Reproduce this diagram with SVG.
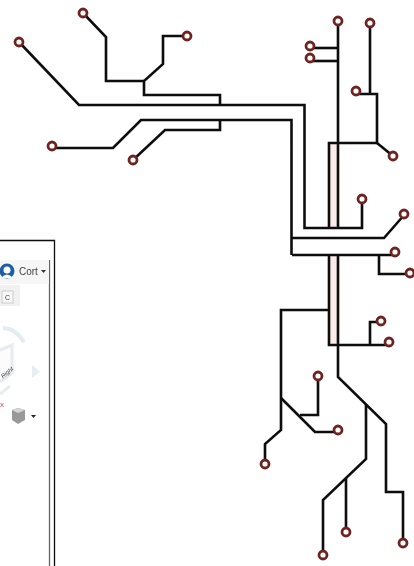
<svg xmlns="http://www.w3.org/2000/svg" width="414" height="566" viewBox="0 0 414 566">
<style>
.w{fill:none;stroke:#111;stroke-width:2.6;stroke-linejoin:miter}
.n{fill:#fff;stroke:#6e2320;stroke-width:2.8}
.u{font-family:"Liberation Sans",Arial,sans-serif;fill:#444}
</style>
<defs><filter id="soft" x="-5%" y="-5%" width="110%" height="110%"><feGaussianBlur stdDeviation="0.45"/></filter></defs>
<rect width="414" height="566" fill="#fff"/>
<g id="screenshot" filter="url(#soft)">
<path d="M0 240.500H54.500V566" fill="none" stroke="#111" stroke-width="1.300"/>
<path d="M49.500 260V566" fill="none" stroke="#666" stroke-width="1.300"/>
<rect x="0" y="260" width="49" height="24" fill="#f6f6f6"/>
<rect x="0" y="285" width="20" height="21" fill="#f1f1f1"/>
<rect x="2" y="291" width="11" height="12" fill="#f8f8f8" stroke="#ccc"/>
<text class="u" x="5" y="300" font-size="7">C</text>
<circle cx="7" cy="271" r="7.500" fill="#1f5fa8"/>
<circle cx="7" cy="270" r="3.500" fill="#fff"/>
<path d="M1 278q6-7 12 0z" fill="#fff"/>
<text class="u" x="19" y="274.500" font-size="10">Cort</text>
<path d="M41 270h5l-2.500 3z" fill="#333"/>
<path d="M3 328q12 0 21 14" fill="none" stroke="#e3ecf0" stroke-width="4"/>
<path d="M0 350l12-5v28l-12 9" fill="#fbfcfc" stroke="#e6ecef" stroke-width="3"/>
<text class="u" x="1" y="377" font-size="6" font-style="italic" transform="rotate(-40 4 375)" fill="#555">Right</text>
<path d="M32 365v13l8-6.500z" fill="#e6eff3"/>
<path d="M0 394l10-8" fill="none" stroke="#e8edf0" stroke-width="3"/>
<text x="0" y="407" font-family="Liberation Sans,sans-serif" font-size="8" fill="#d84848">x</text>
<path d="M12 410l6-2 7 2v10l-7 4-6-4z" fill="#999"/>
<path d="M12 410l6-2 7 2-7 3z" fill="#d4d4d4"/>
<path d="M31 415h5l-2.500 3z" fill="#222"/>
</g>
<g id="bands">
<rect x="329" y="143" width="9" height="85" fill="#f9ecea"/>
<rect x="329" y="255" width="9" height="90" fill="#f9ecea"/>
</g>
<g id="connectors" filter="url(#soft)">
<path class="w" d="M83 13L106 37V81H144"/>
<path class="w" d="M186 36H163V64L144 81V95H220V105"/>
<path class="w" d="M19 42L79 105H304.500V228H362V199"/>
<path class="w" d="M52 148H113L141 120H291.500V255"/>
<path class="w" d="M133 160L165 130H220V120"/>
<path class="w" d="M405 214L384 238H292"/>
<path class="w" d="M292 255H395"/>
<path class="w" d="M379 255V274H410"/>
<path class="w" d="M338 21V228"/>
<path class="w" d="M310 48H338"/>
<path class="w" d="M310 61H338"/>
<path class="w" d="M370 23V94"/>
<path class="w" d="M356 94H377V143H329V228"/>
<path class="w" d="M377 143L393 156"/>
<path class="w" d="M329 255V345H389"/>
<path class="w" d="M370 345V322H381"/>
<path class="w" d="M338 255V377L386 424V492H403V543"/>
<path class="w" d="M366 404V459L323 500V555"/>
<path class="w" d="M346 478V532"/>
<path class="w" d="M329 310H281V430L265 444V464"/>
<path class="w" d="M281 398L315 432H338"/>
<path class="w" d="M300 415H318V376"/>
</g>
<g id="n1"><circle class="n" cx="83" cy="13" r="4"/></g>
<g id="n2"><circle class="n" cx="187" cy="36" r="4"/></g>
<g id="n3"><circle class="n" cx="19" cy="42" r="4"/></g>
<g id="n4"><circle class="n" cx="52" cy="146" r="4"/></g>
<g id="n5"><circle class="n" cx="133" cy="160" r="4"/></g>
<g id="n6"><circle class="n" cx="338" cy="21" r="4"/></g>
<g id="n7"><circle class="n" cx="370" cy="23" r="4"/></g>
<g id="n8"><circle class="n" cx="310" cy="46" r="4"/></g>
<g id="n9"><circle class="n" cx="310" cy="58" r="4"/></g>
<g id="n10"><circle class="n" cx="356" cy="91" r="4"/></g>
<g id="n11"><circle class="n" cx="393" cy="156" r="4"/></g>
<g id="n12"><circle class="n" cx="362" cy="199" r="4"/></g>
<g id="n13"><circle class="n" cx="404" cy="214" r="4"/></g>
<g id="n14"><circle class="n" cx="395" cy="252" r="4"/></g>
<g id="n15"><circle class="n" cx="410" cy="273" r="4"/></g>
<g id="n16"><circle class="n" cx="381" cy="321" r="4"/></g>
<g id="n17"><circle class="n" cx="389" cy="342" r="4"/></g>
<g id="n18"><circle class="n" cx="318" cy="376" r="4"/></g>
<g id="n19"><circle class="n" cx="338" cy="430" r="4"/></g>
<g id="n20"><circle class="n" cx="265" cy="464" r="4"/></g>
<g id="n21"><circle class="n" cx="346" cy="532" r="4"/></g>
<g id="n22"><circle class="n" cx="403" cy="543" r="4"/></g>
<g id="n23"><circle class="n" cx="323" cy="555" r="4"/></g>
</svg>
